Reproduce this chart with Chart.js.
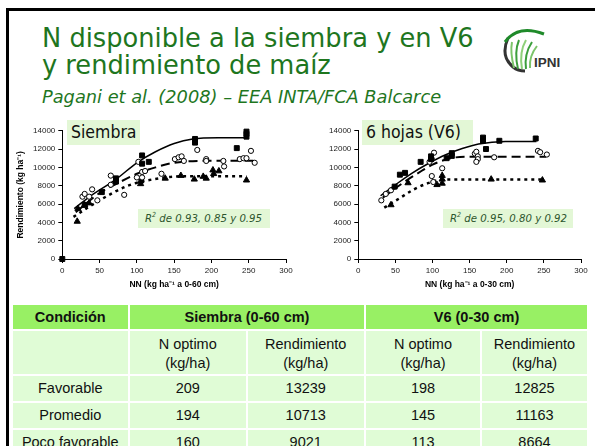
<!DOCTYPE html>
<html lang="es">
<head>
<meta charset="UTF-8">
<title>N disponible a la siembra y en V6 y rendimiento de maíz</title>
<script src="https://cdn.jsdelivr.net/npm/chart.js"></script>
<style>
  body { margin: 0; width: 595px; height: 446px; overflow: hidden; background: #fff; position: relative;
         font-family: "Liberation Sans", Arial, sans-serif; }
  .abs { position: absolute; }
  .titulo { position: absolute; left: 42px; font-family: "DejaVu Sans", sans-serif; font-size: 25.7px;
            line-height: 30px; color: #1e761e; white-space: nowrap; }
  .sub { position: absolute; left: 42px; top: 87px; font-family: "DejaVu Sans", sans-serif; font-style: italic;
         font-size: 17.8px; line-height: 20px; color: #1e761e; white-space: nowrap; }
  .etq { position: absolute; top: 120px; height: 25px; line-height: 25px; background: #e3f7d6; color: #111;
         font-family: "DejaVu Sans Condensed", "DejaVu Sans", sans-serif; font-size: 17.5px; padding-left: 4px;
         box-sizing: border-box; white-space: nowrap; }
  .r2 { position: absolute; top: 209px; height: 19px; line-height: 19px; background: #e3f7d6; color: #2d552d;
        font-family: "DejaVu Sans Condensed", "DejaVu Sans", sans-serif; font-style: italic; font-size: 11.3px;
        padding-left: 7px; box-sizing: border-box; white-space: nowrap; }
  .r2 sup { font-size: 7px; line-height: 0; }
  canvas { position: absolute; top: 120px; }
  #tabla { position: absolute; left: 10.5px; top: 303px; border-collapse: separate; border-spacing: 2px;
           table-layout: fixed; font-size: 14.5px; color: #111; }
  #tabla td { padding: 0; text-align: center; vertical-align: middle; background: #e0fcd6; line-height: 19px; }
  #tabla tr.hd td { background: #98f064; font-weight: bold; height: 24px; }
  #tabla tr.sh td { height: 40px; padding-top: 3px; }
  #tabla tr.dt td { height: 25px; }
</style>
</head>
<body>
<div class="abs" style="left:6px;top:8px;width:3px;height:438px;background:#000"></div>
<div class="abs" style="left:6px;top:8px;width:589px;height:2.5px;background:#000"></div>

<div class="titulo" style="top:23.4px">N disponible a la siembra y en V6</div>
<div class="titulo" style="top:50.1px">y rendimiento de maíz</div>
<div class="sub">Pagani et al. (2008) – EEA INTA/FCA Balcarce</div>

<svg class="abs" style="left:488px;top:22px" width="84" height="56" viewBox="488 22 84 56">
  <path d="M508 38 Q500 56 513 67 Q518 71 525 71" fill="none" stroke="#333" stroke-width="3"/>
  <path d="M505 42 Q518 24 544 34" fill="none" stroke="#1f8a2a" stroke-width="3"/>
  <path d="M514 68 Q510 52 512 42" fill="none" stroke="#7cc46a" stroke-width="2"/>
  <path d="M518 69 Q514 52 519 40" fill="none" stroke="#3c9e3c" stroke-width="2"/>
  <path d="M522 69 Q519 52 526 40" fill="none" stroke="#8fd07a" stroke-width="2"/>
  <path d="M526 69 Q524 54 532 42" fill="none" stroke="#3c9e3c" stroke-width="2"/>
  <path d="M530 68 Q529 56 537 46" fill="none" stroke="#7cc46a" stroke-width="2"/>
  <text x="534" y="67" font-family="Liberation Sans, Arial" font-weight="bold" font-size="13.5" fill="#333">IPNI</text>
</svg>

<div class="etq" style="left:67px;width:73px">Siembra</div>
<div class="etq" style="left:362px;width:111px">6 hojas (V6)</div>

<canvas id="chartSiembra" width="290" height="180" style="left:10px"></canvas>
<canvas id="chartV6" width="289" height="180" style="left:306px"></canvas>

<div class="r2" style="left:138px;width:132px">R<sup>2</sup> de 0.93, 0.85 y 0.95</div>
<div class="r2" style="left:443px;width:130px">R<sup>2</sup> de 0.95, 0.80 y 0.92</div>

<table id="tabla">
  <colgroup>
    <col style="width:115.5px"><col style="width:115.5px"><col style="width:116.5px">
    <col style="width:114px"><col style="width:105px">
  </colgroup>
  <tbody id="cuerpo"></tbody>
</table>

<script>
  // Siembra (0-60 cm): observed points [NN, rendimiento]
  const siembraFavorable = [[0, 0], [30, 5900], [53, 7300], [72, 8450], [72, 8800], [107, 10400], [107, 11300],
    [116, 10600], [178, 12700], [178, 12900], [178, 13100], [234, 12100], [247, 13350], [247, 13650], [247, 13900]];
  const siembraPromedio = [[27, 6800], [30, 7100], [36, 6800], [40, 7600], [47, 6400], [65, 8100], [65, 9100],
    [83, 7000], [100, 8900], [102, 10600], [107, 8900], [107, 9500], [111, 9600], [133, 9300], [151, 10900],
    [156, 11100], [160, 11200], [163, 10700], [181, 11900], [193, 10900], [193, 10700], [216, 10700],
    [217, 10100], [238, 10900], [243, 11000], [247, 11000], [253, 11800], [258, 10500]];
  const siembraPoco = [[20, 4100], [21, 5500], [30, 5900], [36, 6100], [105, 8200], [105, 8500], [138, 8800],
    [159, 9100], [177, 8700], [189, 9000], [193, 8800], [202, 9700], [203, 9300], [210, 9600], [247, 8600]];

  // Siembra fitted curves
  const siembraCurvaFav = [[16, 5500], [40, 7000], [72, 8700], [100, 10500], [125, 11700], [150, 12600],
    [175, 13100], [209, 13239], [249, 13239]];
  const siembraCurvaProm = [[18, 5100], [50, 7200], [75, 8300], [100, 9300], [125, 10000], [150, 10500],
    [194, 10713], [258, 10713]];
  const siembraCurvaPoco = [[15, 4600], [50, 6400], [88, 8000], [122, 8700], [160, 9021], [247, 9021]];

  // V6 (0-30 cm): observed points
  const v6Favorable = [[49, 7900], [56, 9200], [63, 9400], [84, 10600], [98, 10900], [98, 11200], [119, 11000],
    [126, 11250], [126, 11550], [168, 12900], [168, 13250], [172, 12000], [190, 12900], [239, 13150]];
  const v6Promedio = [[31, 6400], [37, 7100], [44, 7500], [96, 10600], [99, 10900], [102, 11600], [99, 9050],
    [101, 8400], [113, 9900], [157, 11500], [159, 11700], [161, 11200], [161, 10900], [159, 10600],
    [183, 11100], [242, 11800], [245, 11650], [254, 11400]];
  const v6Poco = [[44, 5900], [67, 8300], [106, 8100], [113, 9100], [113, 8700], [113, 8250], [179, 8700],
    [248, 8600]];

  const v6CurvaFav = [[30, 6900], [50, 8100], [72, 9350], [95, 10450], [117, 11350], [140, 12050], [162, 12550],
    [198, 12825], [240, 12825]];
  const v6CurvaProm = [[33, 6700], [60, 8300], [85, 9600], [100, 10300], [125, 11000], [145, 11163], [253, 11163]];
  const v6CurvaPoco = [[35, 5600], [55, 6600], [75, 7600], [95, 8300], [113, 8664], [247, 8664]];

  // table
  const condiciones = ['Favorable', 'Promedio', 'Poco favorable'];
  const nOptimoSiembra = [209, 194, 160];
  const rendSiembra = [13239, 10713, 9021];
  const nOptimoV6 = [198, 145, 113];
  const rendV6 = [12825, 11163, 8664];

  Chart.defaults.font.family = '"Liberation Sans", Arial, sans-serif';

  function pts(arr) {
    return arr.map(p => ({ x: p[0], y: p[1] }));
  }

  function marcas(arr, style, radius, fill) {
    return {
      data: pts(arr), showLine: false, pointStyle: style, pointRadius: radius,
      pointBackgroundColor: fill, pointBorderColor: '#000', pointBorderWidth: 1, clip: false
    };
  }

  function curva(arr, dash, width) {
    return {
      data: pts(arr), showLine: true, borderColor: '#000', borderWidth: width, borderDash: dash,
      pointRadius: 0, cubicInterpolationMode: 'monotone', fill: false, clip: false
    };
  }

  function buildChart(id, marks, curves, xTitle, yTitle) {
    const ctx = document.getElementById(id).getContext('2d');
    return new Chart(ctx, {
      type: 'scatter',
      data: {
        datasets: [
          marcas(marks[0], 'rect', 3.5, '#000'),
          marcas(marks[1], 'circle', 2.6, '#fff'),
          marcas(marks[2], 'triangle', 3.6, '#000'),
          curva(curves[0], [], 1.5),
          curva(curves[1], [9, 5], 2),
          curva(curves[2], [3, 4], 2.5)
        ]
      },
      options: {
        responsive: false,
        animation: false,
        layout: { padding: { left: 0, top: 10.7, right: 14, bottom: 8 } },
        plugins: { legend: { display: false }, tooltip: { enabled: false } },
        scales: {
          x: {
            type: 'linear', min: 0, max: 300,
            ticks: { stepSize: 50, font: { size: 8 }, color: '#222', padding: 3, maxRotation: 0 },
            grid: { drawOnChartArea: false, drawTicks: true, tickLength: 4, color: '#000' },
            border: { color: '#000', width: 1 },
            title: { display: true, text: xTitle, color: '#000', font: { size: 8.5, weight: 'bold' },
                     padding: { top: 2, bottom: 2 } },
            afterFit: s => { s.height = 33; }
          },
          y: {
            min: 0, max: 14000,
            ticks: { stepSize: 2000, font: { size: 8 }, color: '#222', padding: 3,
                     callback: v => String(v) },
            grid: { drawOnChartArea: false, drawTicks: true, tickLength: 4, color: '#000' },
            border: { color: '#000', width: 1 },
            title: { display: !!yTitle, text: yTitle || '', color: '#000', font: { size: 8.5, weight: 'bold' },
                     padding: { top: 6, bottom: 2 } },
            afterFit: s => { s.width = 52.3; }
          }
        }
      }
    });
  }

  buildChart('chartSiembra', [siembraFavorable, siembraPromedio, siembraPoco],
    [siembraCurvaFav, siembraCurvaProm, siembraCurvaPoco], 'NN (kg ha⁻¹ a 0-60 cm)', 'Rendimiento (kg ha⁻¹)');
  buildChart('chartV6', [v6Favorable, v6Promedio, v6Poco],
    [v6CurvaFav, v6CurvaProm, v6CurvaPoco], 'NN (kg ha⁻¹ a 0-30 cm)', null);

  // build the table
  const cuerpo = document.getElementById('cuerpo');
  let html = '<tr class="hd"><td>Condición</td><td colspan="2">Siembra (0-60 cm)</td><td colspan="2">V6 (0-30 cm)</td></tr>';
  html += '<tr class="sh"><td></td><td>N optimo<br>(kg/ha)</td><td>Rendimiento<br>(kg/ha)</td>' +
          '<td>N optimo<br>(kg/ha)</td><td>Rendimiento<br>(kg/ha)</td></tr>';
  condiciones.forEach((c, i) => {
    html += '<tr class="dt"><td>' + c + '</td><td>' + nOptimoSiembra[i] + '</td><td>' + rendSiembra[i] +
            '</td><td>' + nOptimoV6[i] + '</td><td>' + rendV6[i] + '</td></tr>';
  });
  cuerpo.innerHTML = html;
</script>
</body>
</html>
